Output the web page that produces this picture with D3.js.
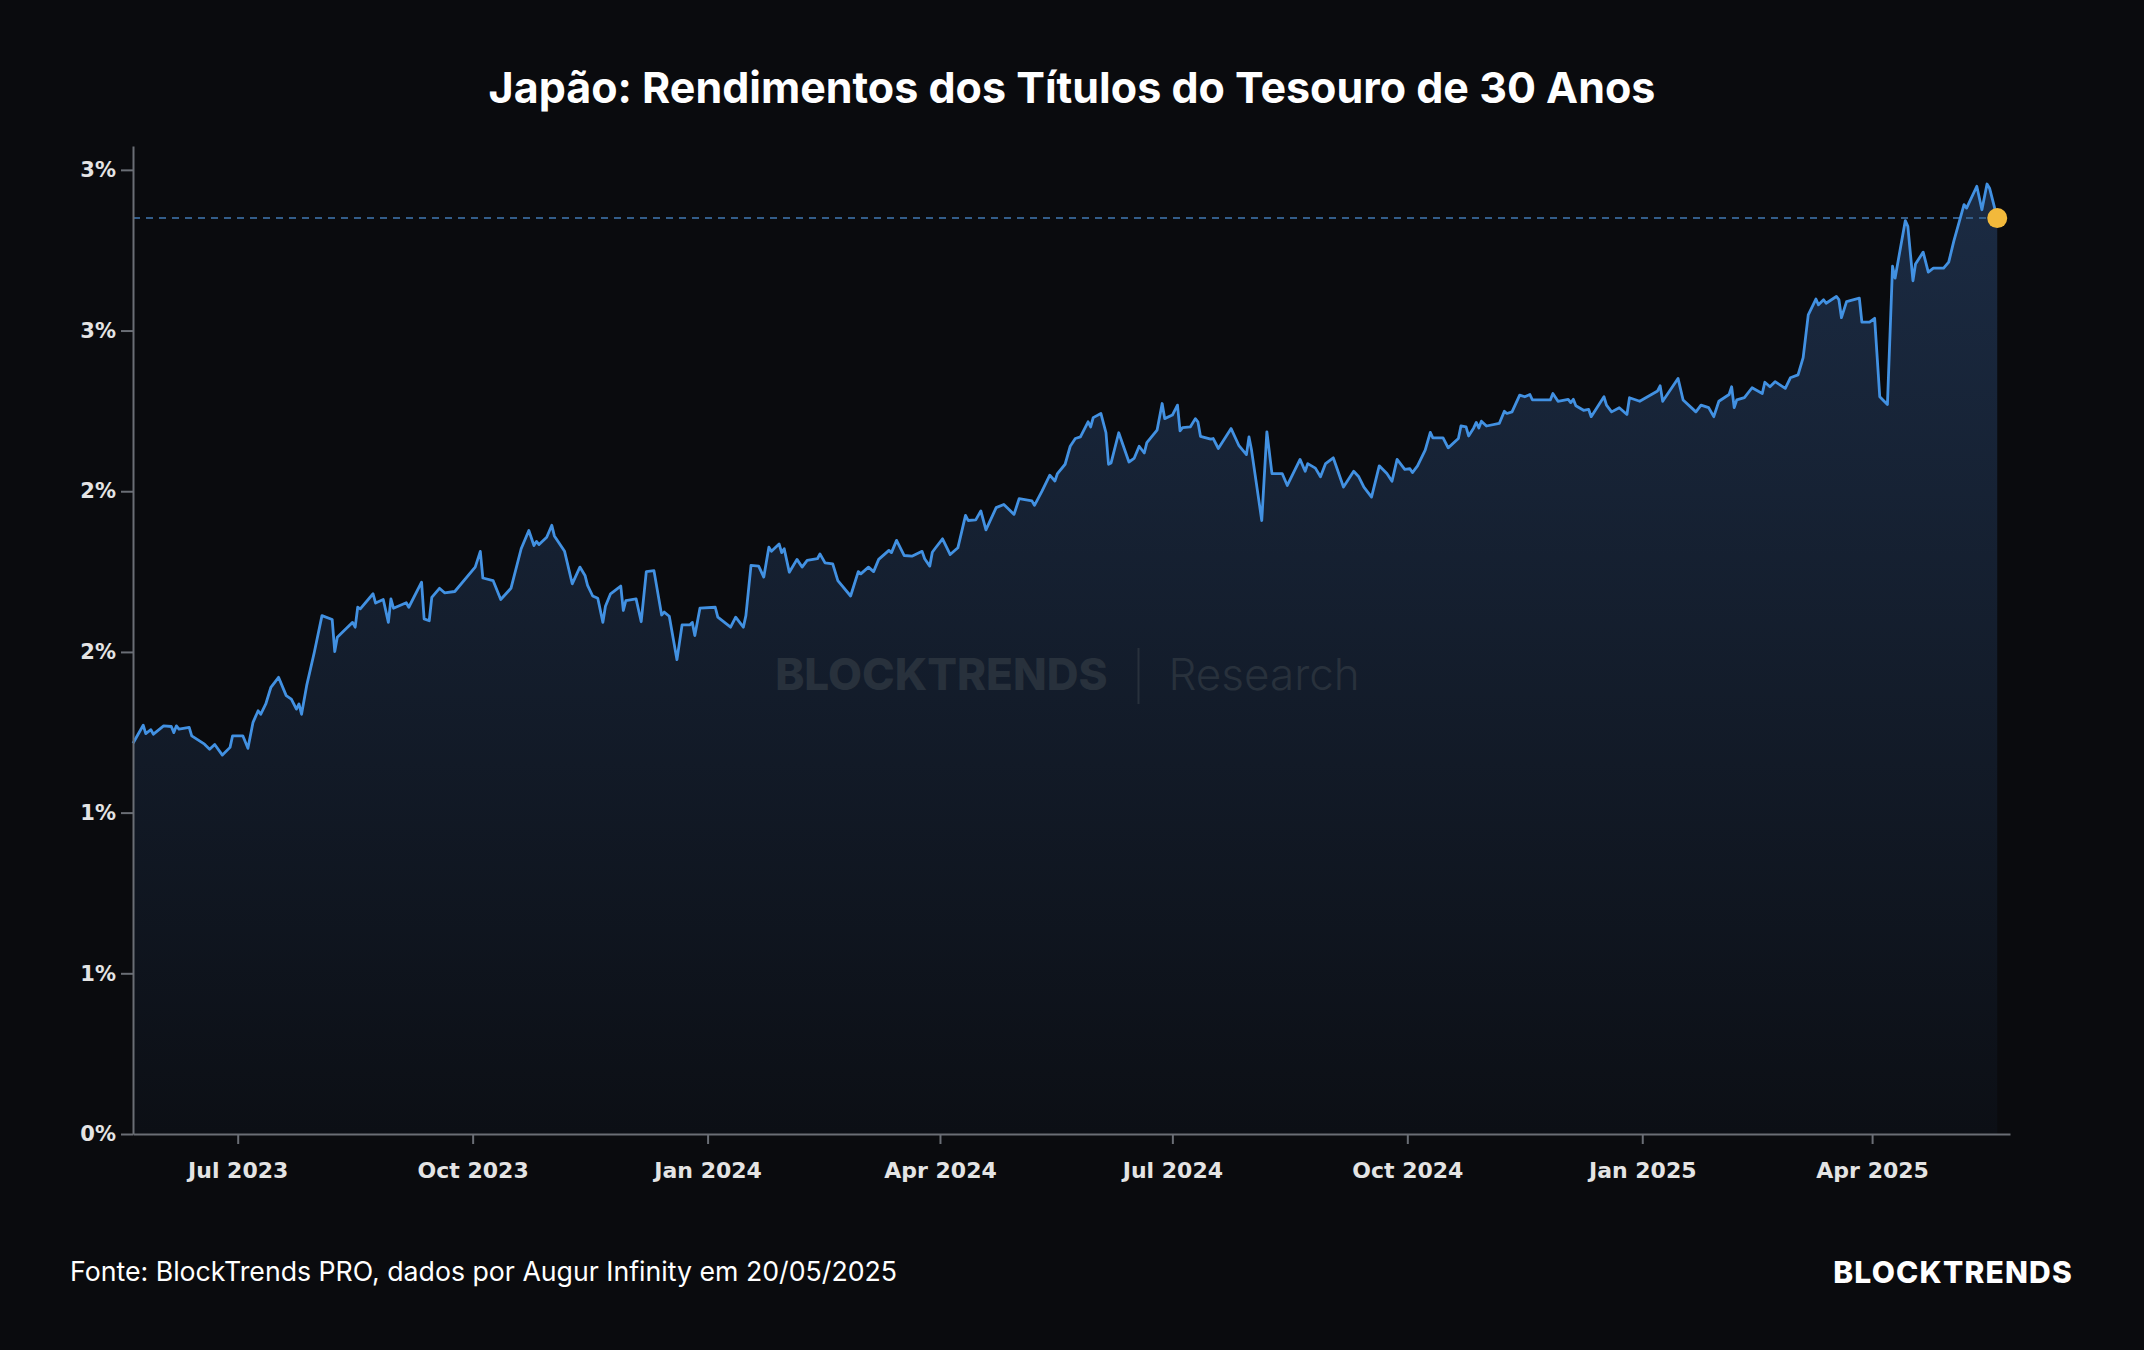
<!DOCTYPE html>
<html>
<head>
<meta charset="utf-8">
<script src="https://cdn.jsdelivr.net/npm/d3@7"></script>
<style>
  html, body { margin: 0; padding: 0; background: #0a0b0e; }
  svg { display: block; }
</style>
</head>
<body>
<svg id="chart"></svg>
<script>
// Japan 30Y government bond yield (%), one line per month
const dates = [
  "2023-05-21","2023-05-25","2023-05-26","2023-05-28","2023-05-29",
  "2023-06-02","2023-06-05","2023-06-06","2023-06-07","2023-06-08","2023-06-12","2023-06-13","2023-06-18","2023-06-20","2023-06-22","2023-06-25","2023-06-28","2023-06-29",
  "2023-07-03","2023-07-05","2023-07-07","2023-07-09","2023-07-10","2023-07-12","2023-07-14","2023-07-17","2023-07-20","2023-07-22","2023-07-24","2023-07-25","2023-07-26","2023-07-28","2023-07-31",
  "2023-08-03","2023-08-07","2023-08-08","2023-08-09","2023-08-13","2023-08-15","2023-08-16","2023-08-17","2023-08-18","2023-08-23","2023-08-24","2023-08-27","2023-08-29","2023-08-30","2023-08-31",
  "2023-09-05","2023-09-06","2023-09-11","2023-09-12","2023-09-14","2023-09-15","2023-09-18","2023-09-20","2023-09-24",
  "2023-10-02","2023-10-04","2023-10-05","2023-10-09","2023-10-12","2023-10-16","2023-10-20","2023-10-23","2023-10-25","2023-10-26","2023-10-27","2023-10-30",
  "2023-11-01","2023-11-02","2023-11-06","2023-11-09","2023-11-12","2023-11-14","2023-11-15","2023-11-17","2023-11-19","2023-11-21","2023-11-22","2023-11-24","2023-11-28","2023-11-29","2023-11-30",
  "2023-12-04","2023-12-06","2023-12-08","2023-12-11","2023-12-14","2023-12-15","2023-12-17","2023-12-20","2023-12-22","2023-12-25","2023-12-26","2023-12-27","2023-12-29",
  "2024-01-04","2024-01-05","2024-01-10","2024-01-12","2024-01-15","2024-01-16","2024-01-18","2024-01-21","2024-01-23","2024-01-25","2024-01-26","2024-01-29","2024-01-30","2024-01-31",
  "2024-02-02","2024-02-05","2024-02-07","2024-02-09","2024-02-13","2024-02-14","2024-02-16","2024-02-19","2024-02-21","2024-02-26","2024-02-29",
  "2024-03-01","2024-03-04","2024-03-06","2024-03-08","2024-03-12","2024-03-13","2024-03-15","2024-03-18","2024-03-21","2024-03-25","2024-03-26","2024-03-28","2024-03-29","2024-03-30",
  "2024-04-02","2024-04-05","2024-04-08","2024-04-09","2024-04-11","2024-04-12","2024-04-15","2024-04-17","2024-04-19","2024-04-23","2024-04-26","2024-04-30",
  "2024-05-02","2024-05-07","2024-05-08","2024-05-11","2024-05-14","2024-05-16","2024-05-17","2024-05-20","2024-05-22","2024-05-24","2024-05-26","2024-05-29","2024-05-30","2024-05-31",
  "2024-06-03","2024-06-05","2024-06-06","2024-06-07","2024-06-10","2024-06-14","2024-06-16","2024-06-18","2024-06-20","2024-06-21","2024-06-25","2024-06-27","2024-06-28",
  "2024-07-01","2024-07-03","2024-07-04","2024-07-05","2024-07-08","2024-07-10","2024-07-11","2024-07-12","2024-07-16","2024-07-17","2024-07-19","2024-07-24","2024-07-27","2024-07-30","2024-07-31",
  "2024-08-01","2024-08-05","2024-08-07","2024-08-09","2024-08-13","2024-08-15","2024-08-20","2024-08-22","2024-08-23","2024-08-26","2024-08-28","2024-08-30",
  "2024-09-02","2024-09-06","2024-09-10","2024-09-12","2024-09-14","2024-09-17","2024-09-20","2024-09-23","2024-09-25","2024-09-27","2024-09-30",
  "2024-10-02","2024-10-03","2024-10-05","2024-10-08","2024-10-10","2024-10-11","2024-10-15","2024-10-17","2024-10-21","2024-10-22","2024-10-24","2024-10-25","2024-10-27","2024-10-28","2024-10-29","2024-10-30",
  "2024-11-01","2024-11-06","2024-11-08","2024-11-09","2024-11-11","2024-11-14","2024-11-16","2024-11-18","2024-11-19","2024-11-26","2024-11-27","2024-11-29",
  "2024-12-03","2024-12-04","2024-12-05","2024-12-06","2024-12-09","2024-12-11","2024-12-12","2024-12-17","2024-12-18","2024-12-20","2024-12-23","2024-12-26","2024-12-27","2024-12-31",
  "2025-01-07","2025-01-08","2025-01-09","2025-01-15","2025-01-17","2025-01-22","2025-01-24","2025-01-27","2025-01-29","2025-01-31",
  "2025-02-04","2025-02-05","2025-02-06","2025-02-07","2025-02-10","2025-02-13","2025-02-17","2025-02-18","2025-02-20","2025-02-22","2025-02-26","2025-02-28",
  "2025-03-03","2025-03-05","2025-03-07","2025-03-10","2025-03-11","2025-03-13","2025-03-14","2025-03-18","2025-03-19","2025-03-20","2025-03-22","2025-03-27","2025-03-28","2025-03-31",
  "2025-04-02","2025-04-04","2025-04-07","2025-04-09","2025-04-10","2025-04-14","2025-04-15","2025-04-17","2025-04-18","2025-04-21","2025-04-23","2025-04-25","2025-04-29",
  "2025-05-01","2025-05-03","2025-05-07","2025-05-08","2025-05-12","2025-05-14","2025-05-16","2025-05-17","2025-05-20"
];

const yields = [
  1.216,1.272,1.246,1.258,1.244,
  1.270,1.268,1.249,1.270,1.260,1.265,1.239,1.213,1.197,1.212,1.179,1.203,1.239,
  1.239,1.200,1.281,1.317,1.306,1.338,1.390,1.421,1.364,1.353,1.322,1.338,1.306,1.395,1.499,
  1.613,1.601,1.501,1.546,1.577,1.592,1.577,1.639,1.634,1.681,1.652,1.663,1.592,1.665,1.636,
  1.653,1.639,1.717,1.603,1.597,1.670,1.698,1.684,1.688,
  1.764,1.813,1.730,1.722,1.663,1.698,1.821,1.878,1.831,1.844,1.834,1.857,
  1.894,1.861,1.813,1.712,1.764,1.738,1.707,1.674,1.667,1.592,1.642,1.681,1.705,1.629,1.660,
  1.665,1.594,1.750,1.753,1.615,1.624,1.611,1.476,1.584,1.584,1.592,1.551,1.636,
  1.639,1.608,1.577,1.608,1.577,1.613,1.769,1.767,1.733,1.826,1.813,1.836,1.809,1.821,
  1.748,1.788,1.764,1.785,1.790,1.805,1.777,1.774,1.722,1.674,1.750,
  1.743,1.764,1.750,1.788,1.816,1.809,1.847,1.800,1.798,1.813,1.790,1.767,1.810,1.821,
  1.852,1.803,1.824,1.857,1.925,1.909,1.911,1.939,1.880,1.949,1.959,1.928,
  1.977,1.970,1.956,2.001,2.050,2.032,2.055,2.084,2.140,2.164,2.169,2.216,2.200,2.229,
  2.242,2.182,2.084,2.088,2.182,2.091,2.102,2.140,2.119,2.151,2.190,2.273,2.226,
  2.237,2.268,2.188,2.198,2.200,2.226,2.216,2.171,2.162,2.164,2.133,2.195,2.143,2.114,2.169,
  2.128,1.909,2.185,2.055,2.055,2.018,2.099,2.062,2.086,2.072,2.045,2.086,
  2.104,2.013,2.062,2.045,2.013,1.982,2.079,2.055,2.031,2.099,2.068,
  2.070,2.058,2.079,2.128,2.183,2.166,2.166,2.135,2.164,2.203,2.200,2.172,2.197,2.214,2.197,2.218,
  2.203,2.211,2.249,2.242,2.247,2.299,2.294,2.301,2.284,2.284,2.304,2.280,
  2.286,2.276,2.286,2.266,2.252,2.255,2.232,2.294,2.268,2.247,2.260,2.239,2.291,2.280,
  2.312,2.328,2.280,2.351,2.284,2.247,2.268,2.260,2.232,2.280,
  2.301,2.325,2.260,2.284,2.291,2.322,2.304,2.339,2.325,2.341,2.320,2.353,
  2.362,2.416,2.549,2.598,2.580,2.596,2.585,2.606,2.596,2.540,2.590,2.601,2.526,2.526,
  2.538,2.294,2.270,2.700,2.663,2.842,2.824,2.655,2.707,2.744,2.682,2.694,2.694,
  2.713,2.778,2.892,2.881,2.949,2.876,2.956,2.943,2.850
];

// x axis runs a few days past the last reading
const xStart = "2023-05-21";
const xEnd = "2025-05-25";

const title = "Japão: Rendimentos dos Títulos do Tesouro de 30 Anos";
const source = "Fonte: BlockTrends PRO, dados por Augur Infinity em 20/05/2025";

const W = 2144, H = 1350;
const margin = { top: 146, right: 134, bottom: 216, left: 133 };
const width = W - margin.left - margin.right;
const height = H - margin.top - margin.bottom;

const svg = d3.select("#chart").attr("width", W).attr("height", H);
svg.append("rect").attr("width", W).attr("height", H).attr("fill", "#0a0b0e");

const parse = d3.utcParse("%Y-%m-%d");
const data = dates.map((d, i) => ({ date: parse(d), value: yields[i] }));
const last = data[data.length - 1];

const x = d3.scaleUtc().domain([parse(xStart), parse(xEnd)]).range([0, width]);
const y = d3.scaleLinear().domain([0, d3.max(yields) * 1.04]).range([height, 0]);

const g = svg.append("g").attr("transform", `translate(${margin.left},${margin.top})`);

// area gradient
const grad = svg.append("defs").append("linearGradient")
  .attr("id", "areaFill")
  .attr("gradientUnits", "userSpaceOnUse")
  .attr("x1", 0).attr("x2", 0)
  .attr("y1", y(d3.max(yields))).attr("y2", height);
grad.append("stop").attr("offset", "0%").attr("stop-color", "#1b2b43");
grad.append("stop").attr("offset", "100%").attr("stop-color", "#0c0f15");

g.append("path")
  .datum(data)
  .attr("fill", "url(#areaFill)")
  .attr("d", d3.area().x(d => x(d.date)).y0(height).y1(d => y(d.value)));

// watermark
const wm = g.append("g").attr("transform", `translate(${width / 2 + 61},${544})`);
wm.append("text")
  .attr("x", -25).attr("text-anchor", "end")
  .attr("font-family", "Inter, sans-serif").attr("font-weight", 800).attr("font-size", 44)
  .attr("fill", "#28313c")
  .text("BLOCKTRENDS");
wm.append("line")
  .attr("x1", 6).attr("x2", 6).attr("y1", -42).attr("y2", 14)
  .attr("stroke", "#28313c").attr("stroke-width", 2);
wm.append("text")
  .attr("x", 36)
  .attr("font-family", "Inter, sans-serif").attr("font-weight", 300).attr("font-size", 44)
  .attr("fill", "#28313c")
  .text("Research");

// last value reference
g.append("line")
  .attr("x1", 0).attr("x2", x(last.date))
  .attr("y1", y(last.value)).attr("y2", y(last.value))
  .attr("stroke", "#335d8a").attr("stroke-width", 2)
  .attr("stroke-dasharray", "7,6");

g.append("path")
  .datum(data)
  .attr("fill", "none")
  .attr("stroke", "#4291e2")
  .attr("stroke-width", 2.8)
  .attr("stroke-linejoin", "round")
  .attr("d", d3.line().x(d => x(d.date)).y(d => y(d.value)));

g.append("circle")
  .attr("cx", x(last.date)).attr("cy", y(last.value)).attr("r", 10)
  .attr("fill", "#f2b93b");

// axes
const xAxis = g.append("g")
  .attr("transform", `translate(0,${height})`)
  .call(d3.axisBottom(x)
    .ticks(d3.utcMonth.every(3))
    .tickFormat(d3.utcFormat("%b %Y"))
    .tickSize(10).tickSizeOuter(0).tickPadding(18));

const yAxis = g.append("g")
  .call(d3.axisLeft(y)
    .ticks(6)
    .tickFormat(v => `${Math.round(v)}%`)
    .tickSize(12).tickSizeOuter(0).tickPadding(5));

[xAxis, yAxis].forEach(a => {
  a.select(".domain").attr("stroke", "#6a6e75").attr("stroke-width", 2);
  a.selectAll(".tick line").attr("stroke", "#6a6e75").attr("stroke-width", 2);
  a.selectAll(".tick text")
    .attr("fill", "#e4e4e4")
    .attr("font-family", "'DejaVu Sans', sans-serif")
    .attr("font-weight", "bold");
});
xAxis.selectAll(".tick text").attr("font-size", 22);
yAxis.selectAll(".tick text").attr("font-size", 21);

// title, source, logo
svg.append("text")
  .attr("x", W / 2).attr("y", 103)
  .attr("text-anchor", "middle")
  .attr("font-family", "Inter, sans-serif").attr("font-weight", 700).attr("font-size", 43)
  .attr("fill", "#ffffff")
  .text(title);

svg.append("text")
  .attr("x", 70).attr("y", 1281)
  .attr("font-family", "Inter, sans-serif").attr("font-size", 26.7)
  .attr("fill", "#ffffff")
  .text(source);

svg.append("text")
  .attr("x", 2073).attr("y", 1283)
  .attr("text-anchor", "end")
  .attr("font-family", "Inter, sans-serif").attr("font-weight", 800).attr("font-size", 30)
  .attr("letter-spacing", 1.2)
  .attr("fill", "#ffffff")
  .text("BLOCKTRENDS");
</script>
</body>
</html>
